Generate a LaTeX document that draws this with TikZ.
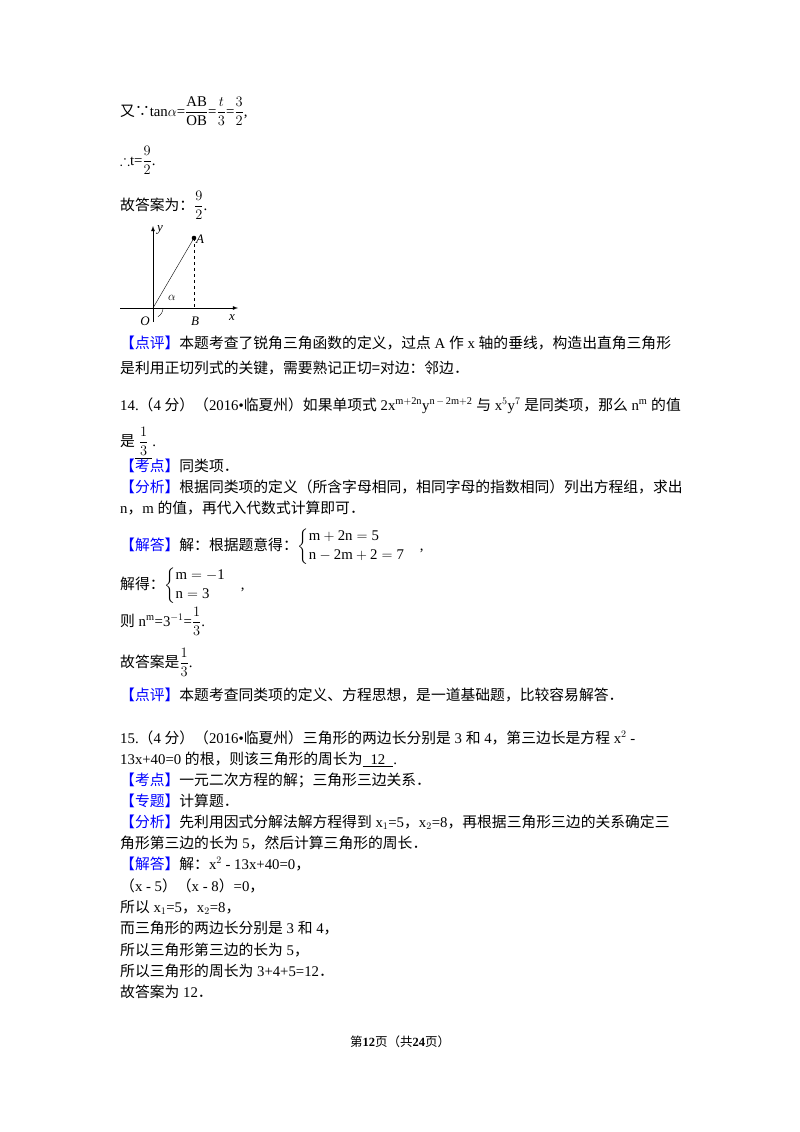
\documentclass[tikz,border=0pt]{standalone}
\usepackage{amsmath,amssymb}
\usepackage{fontspec}
\setmainfont{Liberation Serif}
\newfontfamily\cjk{Noto Sans CJK SC}
\newcommand{\C}[1]{{\cjk #1}}
\newcommand{\Tag}[1]{{\cjk\color{blue}【#1】}}
\begin{document}
\begin{tikzpicture}[x=1pt,y=-1pt,
  t/.style={anchor=base west,inner sep=0pt,font=\fontsize{14.8}{16}\selectfont},
  ax/.style={thick,-latex},lbl/.style={font=\itshape\fontsize{13}{14}\selectfont,inner sep=0pt}]
\useasboundingbox (0,0) rectangle (800,1132);
\node[t] (l1) at (120,116) {\C{又∵}tan$\alpha$=$\dfrac{\mathrm{AB}}{\mathrm{OB}}$=$\dfrac{t}{3}$=$\dfrac{3}{2}$,};
\node[t] (l2) at (120,165) {$\therefore$t=$\dfrac{9}{2}$.};
\node[t] (l3) at (120,210) {\C{故答案为：}$\dfrac{9}{2}$.};
% diagram
\coordinate (O) at (153,308);
\coordinate (Xe) at (238,308);
\coordinate (Xs) at (120,308);
\coordinate (Ye) at (153,226);
\coordinate (Ys) at (153,322);
\coordinate (A) at (194,238);
\coordinate (B) at (194,308);
\draw[ax] (Xs) -- (Xe);
\draw[ax] (Ys) -- (Ye);
\draw (O) -- (A);
\draw[dashed] (A) -- (B);
\fill (A) circle (2.3);
\draw (163,308) arc (0:60:10);
\node[lbl] (la) at (200,239) {A};
\node[lbl] (lo) at (145,321) {O};
\node[lbl] (lb) at (195,321) {B};
\node[lbl] (lx) at (232,318) {x};
\node[lbl] (ly) at (160,230) {y};
\node[lbl] (lal) at (172,298) {$\alpha$};
\node[t] (p1) at (120,348) {\Tag{点评}\C{本题考查了锐角三角函数的定义，过点} A \C{作} x \C{轴的垂线，构造出直角三角形}};
\node[t] (p2) at (120,373) {\C{是利用正切列式的关键，需要熟记正切=对边：邻边．}};
\node[t] (q14) at (120,410) {14.\C{（}4 \C{分）（}2016•\C{临夏州）如果单项式} 2x$^{\mathrm{m+2n}}$y$^{\mathrm{n\,-\,2m+2}}$ \C{与} x$^5$y$^7$ \C{是同类项，那么} n$^{\mathrm m}$ \C{的值}};
\node[t] (q14b) at (120,446) {\C{是}\underline{\hspace{4pt}$\dfrac{1}{3}$\hspace{4pt}}.};
\node[t] (k1) at (120,471) {\Tag{考点}\C{同类项．}};
\node[t] (f1) at (120,492) {\Tag{分析}\C{根据同类项的定义（所含字母相同，相同字母的指数相同）列出方程组，求出}};
\node[t] (f2) at (120,513) {n\C{，}m \C{的值，再代入代数式计算即可．}};
\node[t] (j1) at (120,550) {\Tag{解答}\C{解：根据题意得：}$\begin{cases}\mathrm{m+2n=5}\\ \mathrm{n-2m+2=7}\end{cases}$,};
\node[t] (j2) at (120,589) {\C{解得：}$\begin{cases}\mathrm{m=-1}\\ \mathrm{n=3}\end{cases}$,};
\node[t] (j3) at (120,626) {\C{则} n$^{\mathrm m}$=3$^{-1}$=$\dfrac{1}{3}$.};
\node[t] (j4) at (120,667) {\C{故答案是}$\dfrac{1}{3}$.};
\node[t] (p3) at (120,700) {\Tag{点评}\C{本题考查同类项的定义、方程思想，是一道基础题，比较容易解答．}};
\node[t] (q15) at (120,743) {15.\C{（}4 \C{分）（}2016•\C{临夏州）三角形的两边长分别是} 3 \C{和} 4\C{，第三边长是方程} x$^2$ -};
\node[t] (q15b) at (120,764) {13x+40=0 \C{的根，则该三角形的周长为}\underline{\hspace{8pt}12\hspace{8pt}}.};
\node[t] (k2) at (120,785) {\Tag{考点}\C{一元二次方程的解；三角形三边关系．}};
\node[t] (z2) at (120,806) {\Tag{专题}\C{计算题．}};
\node[t] (f3) at (120,827) {\Tag{分析}\C{先利用因式分解法解方程得到} x$_1$=5\C{，}x$_2$=8\C{，再根据三角形三边的关系确定三}};
\node[t] (f4) at (120,848) {\C{角形第三边的长为} 5\C{，然后计算三角形的周长．}};
\node[t] (s1) at (120,869) {\Tag{解答}\C{解：}x$^2$ - 13x+40=0\C{，}};
\node[t] (s2) at (120,891) {\C{（}x - 5\C{）（}x - 8\C{）}=0\C{，}};
\node[t] (s3) at (120,912) {\C{所以} x$_1$=5\C{，}x$_2$=8\C{，}};
\node[t] (s4) at (120,933) {\C{而三角形的两边长分别是} 3 \C{和} 4\C{，}};
\node[t] (s5) at (120,955) {\C{所以三角形第三边的长为} 5\C{，}};
\node[t] (s6) at (120,976) {\C{所以三角形的周长为} 3+4+5=12\C{．}};
\node[t] (s7) at (120,997) {\C{故答案为} 12\C{．}};
\node[inner sep=0pt,font=\fontsize{12.5}{14}\selectfont] (ft) at (400,1042) {\C{第}\textbf{12}\C{页（共}\textbf{24}\C{页）}};
\end{tikzpicture}
\end{document}
